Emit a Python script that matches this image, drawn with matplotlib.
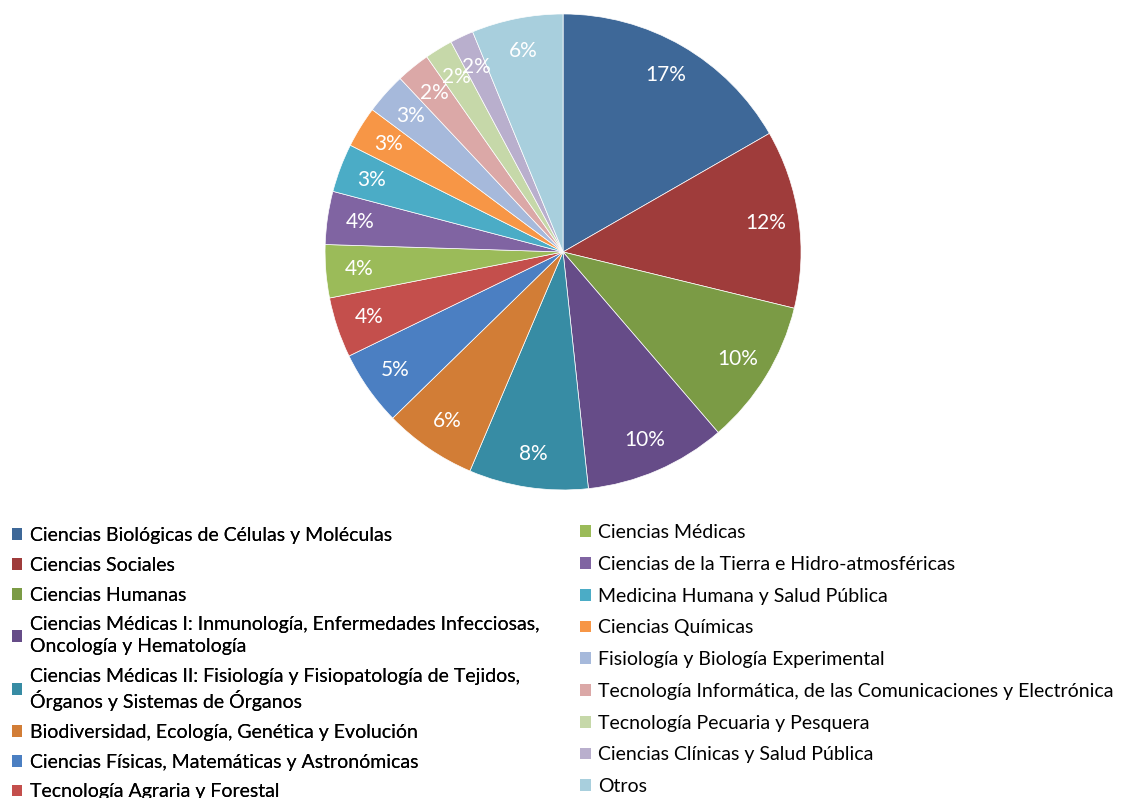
import matplotlib.pyplot as plt
from matplotlib.patches import Patch

# Datos (porcentajes)
areas = [
    'Ciencias Biológicas de Células y Moléculas',
    'Ciencias Sociales',
    'Ciencias Humanas',
    'Ciencias Médicas I: Inmunología, Enfermedades Infecciosas,\nOncología y Hematología',
    'Ciencias Médicas II: Fisiología y Fisiopatología de Tejidos,\nÓrganos y Sistemas de Órganos',
    'Biodiversidad, Ecología, Genética y Evolución',
    'Ciencias Físicas, Matemáticas y Astronómicas',
    'Tecnología Agraria y Forestal',
    'Ciencias Médicas',
    'Ciencias de la Tierra e Hidro-atmosféricas',
    'Medicina Humana y Salud Pública',
    'Ciencias Químicas',
    'Fisiología y Biología Experimental',
    'Tecnología Informática, de las Comunicaciones y Electrónica',
    'Tecnología Pecuaria y Pesquera',
    'Ciencias Clínicas y Salud Pública',
    'Otros',
]
valores = [16.7, 12.1, 9.9, 9.6, 8.1, 6.3, 5.1, 4.1, 3.6, 3.6, 3.3, 2.8, 2.8, 2.3, 1.9, 1.6, 6.2]
colores = ['#3E6898', '#9F3C3B', '#7B9B45', '#664C88', '#378CA4', '#D27D36',
           '#4B7FC2', '#C44F4C', '#9BBB59', '#8064A2', '#4BACC6', '#F79646',
           '#A6B9DB', '#DBA8A7', '#C6D8A9', '#B9AFCD', '#A8CFDD']

plt.rcParams['font.family'] = ['Lato', 'DejaVu Sans']

fig = plt.figure(figsize=(11.27, 7.98), dpi=100)
ax = fig.add_axes([0.2884, 0.386, 0.4224, 0.5965])

wedges, _, autotexts = ax.pie(valores, colors=colores, startangle=90, counterclock=False,
                              autopct='%.0f%%', pctdistance=0.86,
                              wedgeprops=dict(edgecolor='white', linewidth=0.5),
                              textprops=dict(color='white', fontsize=15))
ax.set_xlim(-1, 1)
ax.set_ylim(-1, 1)
ax.set_aspect('equal')

handles = [Patch(facecolor=c, edgecolor='none') for c in colores]

# Leyenda en dos columnas independientes
estilo = dict(loc='upper left', frameon=False, fontsize=14, handlelength=0.55,
              handleheight=0.55, handletextpad=0.4, borderpad=0, borderaxespad=0)
izq = fig.legend(handles[:8], areas[:8], bbox_to_anchor=(0.0103, 0.3396),
                 labelspacing=0.66, **estilo)
der = fig.legend(handles[8:], areas[8:], bbox_to_anchor=(0.5146, 0.3434),
                 labelspacing=0.76, **estilo)
fig.add_artist(izq)
for leg in (izq, der):
    for t in leg.get_texts():
        t.set_linespacing(1.3)

fig.savefig('out.png', dpi=100)
